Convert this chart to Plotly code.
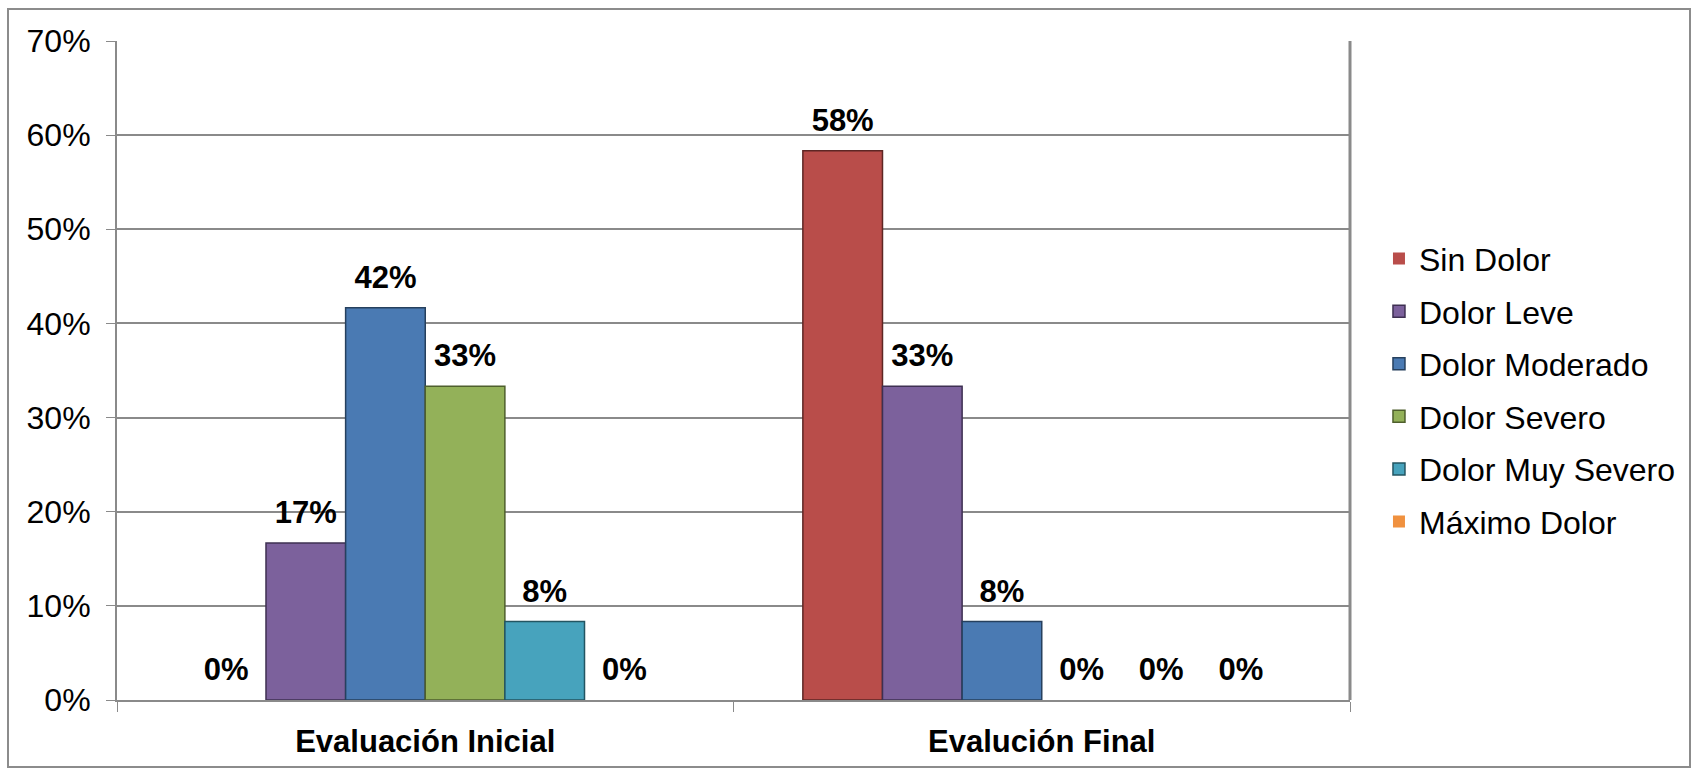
import plotly.graph_objects as go

categories = ["Evaluación Inicial", "Evalución Final"]
series_names = ["Sin Dolor", "Dolor Leve", "Dolor Moderado", "Dolor Severo", "Dolor Muy Severo", "Máximo Dolor"]
sin_dolor = [0.0, 0.5833]
dolor_leve = [0.1667, 0.3333]
dolor_moderado = [0.4167, 0.0833]
dolor_severo = [0.3333, 0.0]
dolor_muy_severo = [0.0833, 0.0]
maximo_dolor = [0.0, 0.0]
y_ticks = [0, 0.1, 0.2, 0.3, 0.4, 0.5, 0.6, 0.7]

series_values = [sin_dolor, dolor_leve, dolor_moderado, dolor_severo, dolor_muy_severo, maximo_dolor]
colors = ["#B94D4A", "#7C619C", "#4A7AB3", "#93B159", "#47A3BD", "#F0913F"]
edges = ["#5E2624", "#3E3052", "#26405E", "#4E5F2C", "#235562", "#9A5A26"]

FONT = "Liberation Sans, Arial, sans-serif"
W, H = 1694, 770
L, R, T, B = 117, 1350, 41, 700
GAP = 0.225

fig = go.Figure()
for i, (name, vals) in enumerate(zip(series_names, series_values)):
    fig.add_trace(go.Bar(
        name=name, x=categories, y=vals,
        marker=dict(color=colors[i],
                    line=dict(color=edges[i], width=[1.5 if v > 0 else 0 for v in vals])),
        legendgroup=name, offsetgroup=str(i),
    ))
for i, (name, vals) in enumerate(zip(series_names, series_values)):
    fig.add_trace(go.Scatter(
        name=name, x=categories, y=vals, mode="markers+text",
        marker=dict(size=18, opacity=0), text=[f"{round(v * 100)}%" for v in vals],
        textposition="top center",
        textfont=dict(family=FONT, size=31, color="black", weight="bold"),
        cliponaxis=False, showlegend=False, hoverinfo="skip",
        legendgroup=name, offsetgroup=str(i),
    ))

def px_x(p):
    return (p - L) / (R - L)

def px_y(p):
    return (B - p) / (B - T)

shapes = [
    dict(type="rect", xref="paper", yref="paper",
         x0=px_x(8), x1=px_x(1690), y0=px_y(767), y1=px_y(9),
         line=dict(color="#8c8c8c", width=2), layer="below"),
    dict(type="line", xref="paper", yref="paper",
         x0=1, x1=1, y0=0, y1=1, line=dict(color="#8a8a8a", width=3)),
]

fig.update_layout(
    width=W, height=H,
    margin=dict(l=L, r=W - R, t=T, b=H - B),
    paper_bgcolor="white", plot_bgcolor="white",
    barmode="group", bargap=GAP, bargroupgap=0,
    scattermode="group", scattergap=GAP,
    font=dict(family=FONT, size=31, color="black"),
    legend=dict(x=1.0235, xanchor="left", y=0.47, yanchor="middle",
                font=dict(size=32), tracegroupgap=8, bgcolor="rgba(0,0,0,0)"),
    shapes=shapes,
    xaxis=dict(showline=True, linecolor="#8a8a8a", linewidth=2,
               ticks="outside", tickson="boundaries", ticklen=10, tickcolor="#8a8a8a",
               tickfont=dict(size=31, weight="bold"), ticklabelstandoff=13),
    yaxis=dict(range=[0, 0.7], tickvals=y_ticks, tickformat=".0%",
               showgrid=True, gridcolor="#8a8a8a", gridwidth=1.5,
               showline=True, linecolor="#8a8a8a", linewidth=2,
               ticks="outside", ticklen=9, tickcolor="#8a8a8a",
               tickfont=dict(size=32), ticklabelstandoff=9, zeroline=False),
)

fig.write_html("out.html")
